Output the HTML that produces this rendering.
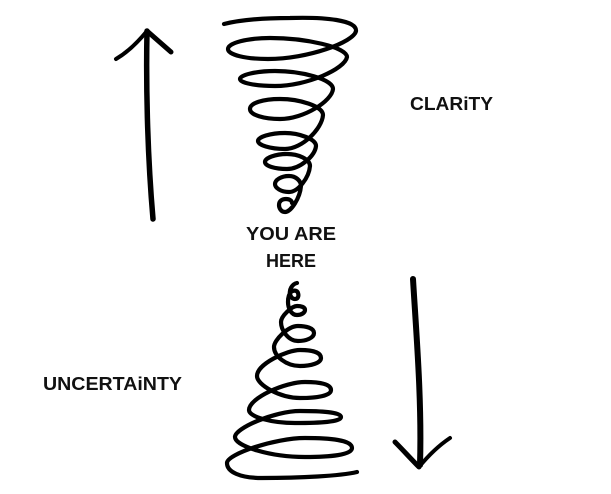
<!DOCTYPE html>
<html>
<head>
<meta charset="utf-8">
<style>
  html, body { margin: 0; padding: 0; background: #ffffff; }
  body { width: 611px; height: 494px; overflow: hidden; }
  svg { display: block; }
  .lbl { font-family: "Liberation Sans", sans-serif; font-size: 18px; font-weight: bold; fill: #111; }
</style>
</head>
<body>
<svg width="611" height="494" viewBox="0 0 611 494" xmlns="http://www.w3.org/2000/svg">
  <rect width="611" height="494" fill="#ffffff"/>

  <!-- Up arrow -->
  <g fill="none" stroke="#000" stroke-linecap="round" stroke-linejoin="round">
    <path d="M 147 31 C 146 80 147 150 153 219" stroke-width="5.5"/>
    <path d="M 147 31 C 138 42 128 52 116 59" stroke-width="4"/>
    <path d="M 147 31 C 155 38 163 45 171 52" stroke-width="5"/>
  </g>

  <!-- Down arrow -->
  <g fill="none" stroke="#000" stroke-linecap="round" stroke-linejoin="round">
    <path d="M 413 279 C 416 330 422 400 420 465" stroke-width="6"/>
    <path d="M 395 442 C 403 450 411 459 419 467" stroke-width="5"/>
    <path d="M 419 467 C 428 456 438 446 450 438" stroke-width="4"/>
  </g>

  <!-- Top spiral (wide at top, narrowing down) -->
  <path fill="none" stroke="#000" stroke-width="4.2" stroke-linecap="round" stroke-linejoin="round" d="
    M 224 24
    C 240 20 265 18 290 18
    C 325 17 357 20 356 31
    C 354 42 308 59 268 59
    C 246 59 228 55 228 49
    C 228 43 247 38 270 38
    C 305 38 347 47 347 57
    C 345 69 307 86 275 86
    C 256 86 240 83 240 79
    C 240 75 256 71 275 71
    C 301 71 333 79 333 89
    C 332 101 304 119 280 119
    C 264 119 250 115 250 109
    C 250 103 263 99 280 99
    C 299 99 323 106 323 115
    C 322 129 302 149 285 149
    C 270 149 258 145 258 141
    C 258 137 270 133 285 133
    C 299 133 316 139 316 146
    C 315 156 300 169 287 169
    C 275 169 265 166 265 162
    C 265 158 275 154 287 154
    C 298 154 310 159 310 166
    C 309 178 298 192 289 192
    C 281 192 275 188 275 184
    C 275 180 281 176 289 176
    C 296 176 301 181 301 186
    C 300 198 291 212 285 212
    C 281 212 279 208 279 205
    C 279 201 282 199 286 199
    C 290 199 292 201 292 203"/>

  <!-- Bottom spiral (narrow at top, widening down) -->
  <path fill="none" stroke="#000" stroke-width="4.2" stroke-linecap="round" stroke-linejoin="round" d="
    M 297 283
    C 292 284 289 290 290 294
    C 291 298 293 299 295 299
    C 298 299 299 296 298 293
    C 297 290 293 290 291 292
    C 289 294 288 298 288 302
    C 288 308 291 315 297 315
    C 301 315 305 313 305 310
    C 305 307 301 306 297 306
    C 292 306 281 316 281 322
    C 281 330 288 341 298 341
    C 306 341 314 338 314 333
    C 314 328 306 326 298 326
    C 288 326 274 340 274 347
    C 274 356 286 366 300 366
    C 311 366 321 363 321 358
    C 321 352 311 350 300 350
    C 287 350 257 364 257 376
    C 257 385 280 398 300 398
    C 316 398 331 396 331 390
    C 331 384 320 382 305 382
    C 285 382 249 398 249 410
    C 249 417 272 423 295 423
    C 320 423 341 422 341 417
    C 341 412 320 411 300 411
    C 275 411 235 428 235 437
    C 235 446 270 457 305 457
    C 330 457 352 455 352 448
    C 352 440 330 438 305 438
    C 275 438 227 454 227 463
    C 227 472 240 478 262 478
    C 300 478 340 476 357 472"/>

  <!-- Labels -->
  <text class="lbl" x="246" y="240" textLength="90" lengthAdjust="spacingAndGlyphs">YOU ARE</text>
  <text class="lbl" x="266" y="267" textLength="50" lengthAdjust="spacingAndGlyphs">HERE</text>
  <text class="lbl" x="410" y="110" textLength="83" lengthAdjust="spacingAndGlyphs">CLARiTY</text>
  <text class="lbl" x="43" y="390" textLength="139" lengthAdjust="spacingAndGlyphs">UNCERTAiNTY</text>
</svg>
</body>
</html>
